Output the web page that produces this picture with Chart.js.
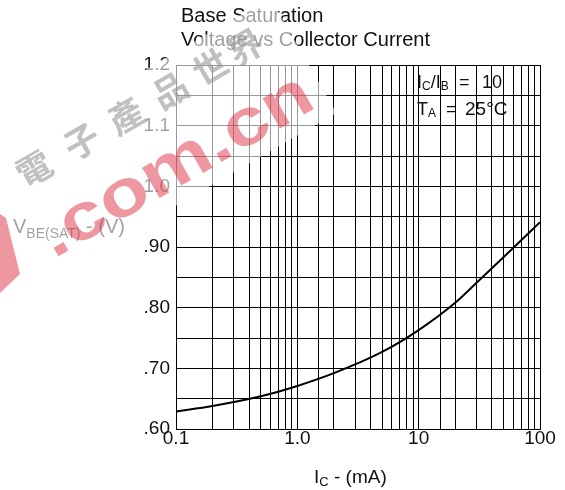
<!DOCTYPE html>
<html>
<head>
<meta charset="utf-8">
<script src="https://cdn.jsdelivr.net/npm/chart.js@4"></script>
<style>
  body { margin: 0; background: #fff; }
  canvas { display: block; }
</style>
</head>
<body>
<canvas id="vbeChart" width="565" height="490"></canvas>
<script>
// collector current (mA) and V_BE(sat)
const icValues = [0.1, 0.2, 0.5, 1, 2, 5, 10, 20, 30, 50, 70, 100];
const vbeValues = [0.629, 0.638, 0.654, 0.671, 0.692, 0.727, 0.763, 0.808, 0.841, 0.883, 0.911, 0.941];

const xTickValues = [0.1, 1, 10, 100];
const xTickLabels = ['0.1', '1.0', '10', '100'];
const yTickValues = [0.6, 0.7, 0.8, 0.9, 1.0, 1.1, 1.2];
const yTickLabels = ['.60', '.70', '.80', '.90', '1.0', '1.1', '1.2'];

const FONT = '"Liberation Sans", Arial, sans-serif';

function pickLabel(values, labels, v) {
    for (let i = 0; i < values.length; i++) {
        if (Math.abs(values[i] - v) < 1e-6 * Math.max(1, values[i])) return labels[i];
    }
    return '';
}

// draws a run of [text, size, dy, x] pieces one after another
function drawRun(ctx, x, y, parts) {
    parts.forEach(p => {
        if (p[3] !== undefined) x = p[3];
        ctx.font = p[1] + 'px ' + FONT;
        ctx.fillText(p[0], x, y + (p[2] || 0));
        x += ctx.measureText(p[0]).width;
    });
}

const textPlugin = {
    id: 'textPlugin',
    afterDraw(chart) {
        const ctx = chart.ctx;
        ctx.save();
        ctx.fillStyle = '#111';
        ctx.textAlign = 'left';
        ctx.textBaseline = 'alphabetic';

        ctx.font = '20px ' + FONT;
        ctx.fillText('Base Saturation', 181, 22);
        ctx.fillText('Voltage vs Collector Current', 181, 46);

        drawRun(ctx, 13, 233, [['V', 20], ['BE(SAT)', 14, 5], [' - (V)', 20]]);
        drawRun(ctx, 314, 483, [['I', 19], ['C', 13, 3], [' - (mA)', 19]]);

        drawRun(ctx, 417, 88, [['I', 18], ['C', 12, 2], ['/I', 18], ['B', 12, 2], ['=', 18, 0, 459], ['10', 18, 0, 482]]);
        drawRun(ctx, 417, 115, [['T', 18], ['A', 12, 2], ['=', 18, 0, 446], ['25°C', 19, 0, 465]]);

        // watermark on top
        ctx.translate(0, 290);
        ctx.rotate(-Math.PI / 6);
        ctx.fillStyle = 'rgba(255,255,255,0.6)';
        ctx.fillRect(-40, -118, 420, 133);

        ctx.fillStyle = 'rgba(150,150,150,0.6)';
        ctx.textAlign = 'center';
        ctx.textBaseline = 'middle';
        ctx.font = 'bold 35px "Noto Sans CJK TC"';
        const chars = ['電', '子', '產', '品', '世', '界'];
        const charU = [90, 145, 196, 247, 294, 334];
        chars.forEach((c, i) => ctx.fillText(c, charU[i], -88));

        ctx.fillStyle = 'rgba(222,48,68,0.5)';
        ctx.textAlign = 'left';
        ctx.textBaseline = 'alphabetic';
        ctx.font = 'bold 66px ' + FONT;
        const w = ctx.measureText('.com.cn').width;
        ctx.save();
        ctx.translate(62, 0);
        ctx.scale(305 / w, 1);
        ctx.fillText('.com.cn', 0, 0);
        ctx.restore();
        ctx.restore();

        ctx.save();
        ctx.fillStyle = 'rgba(222,48,68,0.5)';
        ctx.beginPath();
        ctx.moveTo(0, 214);
        ctx.lineTo(6, 218);
        ctx.lineTo(20, 274);
        ctx.lineTo(0, 293);
        ctx.closePath();
        ctx.fill();
        ctx.restore();
    }
};

const ctx = document.getElementById('vbeChart').getContext('2d');
new Chart(ctx, {
    type: 'line',
    data: {
        datasets: [{
            data: icValues.map((x, i) => ({ x: x, y: vbeValues[i] })),
            borderColor: '#000',
            borderWidth: 2,
            pointRadius: 0,
            fill: false,
            cubicInterpolationMode: 'monotone'
        }]
    },
    options: {
        responsive: false,
        animation: false,
        layout: { padding: { left: 0, right: 25, top: 65, bottom: 0 } },
        plugins: {
            legend: { display: false },
            tooltip: { enabled: false }
        },
        scales: {
            x: {
                type: 'logarithmic',
                min: 0.1,
                max: 100,
                afterFit: s => { s.height = 61; },
                border: { color: '#000', width: 1 },
                grid: { color: '#000', lineWidth: 1, drawTicks: false },
                ticks: {
                    autoSkip: false,
                    maxRotation: 0,
                    padding: 0,
                    color: '#111',
                    font: { family: FONT, size: 19, lineHeight: 1 },
                    callback: v => pickLabel(xTickValues, xTickLabels, v)
                }
            },
            y: {
                min: 0.6,
                max: 1.2,
                afterFit: s => { s.width = 176; },
                border: { color: '#000', width: 1 },
                grid: { color: '#000', lineWidth: 1, drawTicks: false },
                ticks: {
                    stepSize: 0.05,
                    autoSkip: false,
                    padding: 6,
                    color: '#111',
                    font: { family: FONT, size: 19 },
                    callback: v => pickLabel(yTickValues, yTickLabels, v)
                }
            }
        }
    },
    plugins: [textPlugin]
});
</script>
</body>
</html>
